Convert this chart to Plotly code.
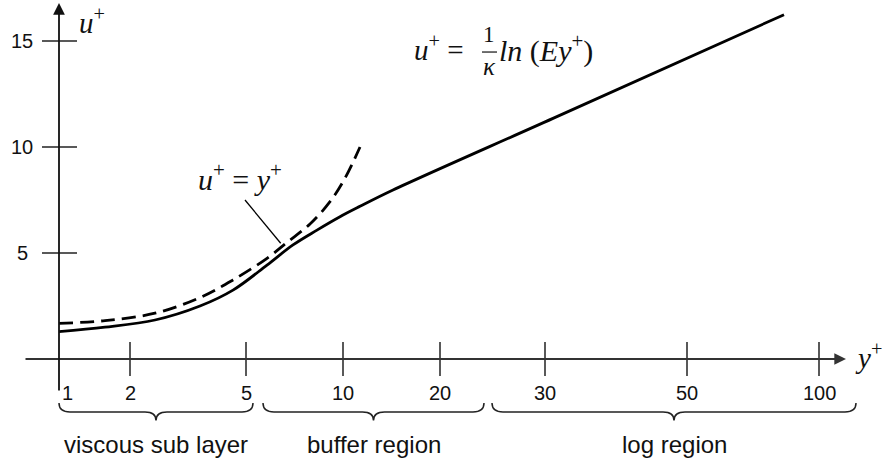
import plotly.graph_objects as go

# ---- data (schematic units: x = distance along the y+ axis, y = u+) ----
tick_pos = [0, 71, 187, 284, 381, 486, 628, 760]
tick_labels = ["1", "2", "5", "10", "20", "30", "50", "100"]
ytick_vals = [5, 10, 15]
ytick_labels = ["5", "10", "15"]

solid_x = [0, 46, 96, 141, 174, 208, 234, 258, 281, 301, 334, 494, 725]
solid_u = [1.29, 1.50, 1.84, 2.5, 3.25, 4.43, 5.38, 6.08, 6.71, 7.2, 7.97, 11.35, 16.24]

dashed_x = [0, 46, 96, 141, 174, 208, 228, 251, 271, 286, 301]
dashed_u = [1.68, 1.81, 2.16, 2.9, 3.73, 4.75, 5.5, 6.37, 7.42, 8.53, 10.0]

region_names = ["viscous sub layer", "buffer region", "log region"]
region_start = [0, 204, 433]
region_end = [194, 425, 797]

SANS = "Liberation Sans, Arial, Helvetica, sans-serif"
SERIF = "Liberation Serif, Times New Roman, serif"
INK = "#111111"
NB = "\u00a0"

fig = go.Figure()

fig.add_trace(go.Scatter(x=solid_x, y=solid_u, mode="lines",
                         line=dict(color="black", width=2.8, shape="spline", smoothing=1.0),
                         hoverinfo="skip"))
fig.add_trace(go.Scatter(x=dashed_x, y=dashed_u, mode="lines",
                         line=dict(color="black", width=2.8, dash="14px,7px", shape="spline", smoothing=1.0),
                         hoverinfo="skip"))

shapes = []
annotations = []

# axes with arrows
annotations.append(dict(x=787, y=0, ax=-35, ay=0, xref="x", yref="y", axref="x", ayref="y",
                        text="", showarrow=True, arrowhead=2, arrowsize=1.3, arrowwidth=1.8,
                        arrowcolor="#333333", standoff=0))
annotations.append(dict(x=0, y=16.79, ax=0, ay=-1.557, xref="x", yref="y", axref="x", ayref="y",
                        text="", showarrow=True, arrowhead=2, arrowsize=1.3, arrowwidth=1.8,
                        arrowcolor="#111111", standoff=0))

# x ticks and labels
for i, (p, lab) in enumerate(zip(tick_pos, tick_labels)):
    if i > 0:
        shapes.append(dict(type="line", xref="x", yref="y", x0=p, x1=p, y0=-0.8, y1=0.8,
                           line=dict(color="#222222", width=1.5)))
    annotations.append(dict(x=p, y=-1.6, xref="x", yref="y", text=lab, showarrow=False,
                            xshift=8 if i == 0 else 0,
                            font=dict(family=SANS, size=20, color=INK)))

# y ticks and labels
for v, lab in zip(ytick_vals, ytick_labels):
    shapes.append(dict(type="line", xref="x", yref="y", x0=-17, x1=18, y0=v, y1=v,
                       line=dict(color="#222222", width=1.5)))
    annotations.append(dict(x=-37, y=v, xref="x", yref="y", text=lab, showarrow=False,
                            font=dict(family=SANS, size=20, color=INK)))

# braces
y_top, y_bar, y_tip = -2.08, -2.5, -2.9
r = 11
for s, e, name in zip(region_start, region_end, region_names):
    m = (s + e) / 2
    path = (f"M {s},{y_top} Q {s},{y_bar} {s + r},{y_bar} L {m - r},{y_bar} "
            f"Q {m},{y_bar} {m},{y_tip} Q {m},{y_bar} {m + r},{y_bar} "
            f"L {e - r},{y_bar} Q {e},{y_bar} {e},{y_top}")
    shapes.append(dict(type="path", xref="x", yref="y", path=path,
                       line=dict(color="#222222", width=1.5)))
    annotations.append(dict(x=m, y=-4.01, xref="x", yref="y", text=name, showarrow=False,
                            font=dict(family=SANS, size=24, color=INK)))

# axis labels
annotations.append(dict(x=33, y=15.95, xref="x", yref="y", text="<i>u</i><sup>+</sup>",
                        showarrow=False, font=dict(family=SERIF, size=29, color=INK)))
annotations.append(dict(x=809, y=0.15, xref="x", yref="y", text="<i>y</i><sup>+</sup>",
                        showarrow=False, font=dict(family=SERIF, size=29, color=INK)))

# u+ = y+ label with leader line
annotations.append(dict(x=181, y=8.6, xref="x", yref="y",
                        text=f"<i>u</i><sup>+</sup>{NB}={NB}<i>y</i><sup>+</sup>",
                        showarrow=False, font=dict(family=SERIF, size=30, color=INK)))
shapes.append(dict(type="line", xref="x", yref="y", x0=186, y0=7.5, x1=221.7, y1=5.46,
                   line=dict(color="black", width=1.3)))

# log-law formula
annotations.append(dict(x=353, y=14.65, xref="x", yref="y", xanchor="left",
                        text=f"<i>u</i><sup>+</sup>{NB}={NB}", showarrow=False,
                        font=dict(family=SERIF, size=29, color=INK)))
annotations.append(dict(x=430, y=15.3, xref="x", yref="y", text="1", showarrow=False,
                        font=dict(family=SERIF, size=23, color=INK)))
shapes.append(dict(type="line", xref="x", yref="y", x0=423, x1=438, y0=14.48, y1=14.48,
                   line=dict(color=INK, width=1.2)))
annotations.append(dict(x=430, y=13.8, xref="x", yref="y", text="<i>κ</i>", showarrow=False,
                        font=dict(family=SERIF, size=25, color=INK)))
annotations.append(dict(x=438, y=14.65, xref="x", yref="y", xanchor="left",
                        text=f"<i>ln</i>{NB}(<i>Ey</i><sup>+</sup>)", showarrow=False,
                        font=dict(family=SERIF, size=30, color=INK)))

fig.update_layout(
    width=882, height=462,
    margin=dict(l=0, r=0, t=0, b=0),
    paper_bgcolor="white", plot_bgcolor="white",
    showlegend=False,
    xaxis=dict(range=[-59, 823], visible=False, fixedrange=True),
    yaxis=dict(range=[-4.858, 16.934], visible=False, fixedrange=True),
    shapes=shapes,
    annotations=annotations,
)

fig.write_html("out.html", config={"displayModeBar": False},
               post_script="document.body.style.margin='0';document.body.style.overflow='hidden';")
